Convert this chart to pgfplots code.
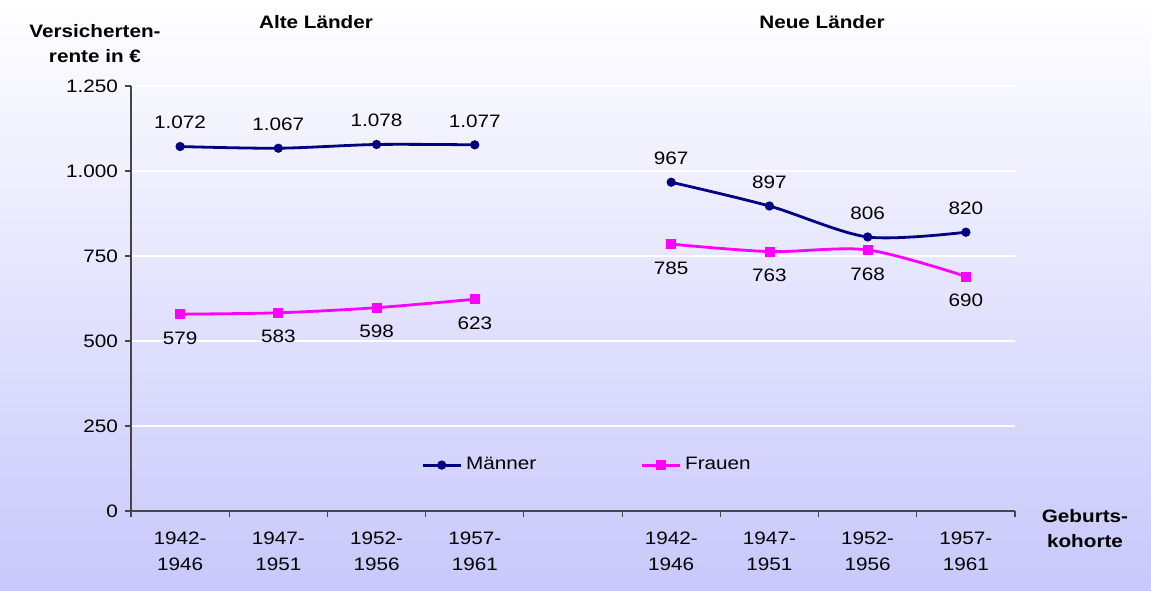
\documentclass[border=0pt]{standalone}
\usepackage{fontspec}
\setmainfont[FakeStretch=1.15]{Liberation Sans}
\usepackage{pgfplots}
\pgfplotsset{compat=1.18}
\definecolor{navy}{RGB}{0,0,128}
\definecolor{mag}{RGB}{255,0,255}
\definecolor{bgbot}{RGB}{200,200,252}
\definecolor{axgray}{RGB}{70,70,70}
\newcommand{\ff}{\fontsize{9}{11}\selectfont}
\begin{document}
\begin{tikzpicture}[x=0.5pt,y=-0.5pt]
\shade[top color=white, bottom color=bgbot] (0,0) rectangle (1151,590);
\begin{axis}[
  at={(65.5pt,-255.5pt)}, anchor=south west,
  scale only axis, width=442pt, height=212.5pt,
  xmin=-0.5, xmax=8.5, ymin=0, ymax=1250,
  axis x line*=bottom, axis y line*=left,
  axis line style={-, draw=axgray, line width=0.6pt},
  ytick={0,250,500,750,1000,1250},
  yticklabels={0,250,500,750,1.000,1.250},
  xtick={0,1,2,3,5,6,7,8},
  xticklabels={1942-\\1946,1947-\\1951,1952-\\1956,1957-\\1961,1942-\\1946,1947-\\1951,1952-\\1956,1957-\\1961},
  minor xtick={-0.5,0.5,1.5,2.5,3.5,4.5,5.5,6.5,7.5,8.5},
  major x tick style={draw=none},
  tick align=outside,
  major tick length=3pt, minor tick length=3pt,
  tick style={axgray, line width=0.6pt},
  ymajorgrids, major grid style={white, line width=0.7pt},
  x tick label style={align=center, font=\fontsize{9}{13}\selectfont, yshift=-4pt},
  y tick label style={font=\ff},
  /pgf/number format/assume math mode=true,
  legend image code/.code={\draw[mark repeat=2,mark phase=2,#1] plot coordinates {(0pt,0pt) (9.5pt,0pt) (19pt,0pt)};},
  legend style={at={(0.517,0.108)}, anchor=center, draw=none, fill=none,
    legend columns=2, font=\ff, /tikz/every even column/.append style={column sep=50pt}},
  point meta=explicit symbolic,
]
\addplot[navy, line width=1.4pt, smooth, tension=0.5, mark=*, mark size=2.1pt,
  mark options={line width=0.4pt, fill=navy},
  nodes near coords, every node near coord/.append style={anchor=center, yshift=12pt, text=black, font=\ff}]
  coordinates {(0,1072)[1.072] (1,1067)[1.067] (2,1078)[1.078] (3,1077)[1.077]};
\addlegendentry{Männer}
\addplot[mag, line width=1.4pt, smooth, tension=0.5, mark=square*, mark size=2.25pt,
  mark options={line width=0.4pt, fill=mag},
  nodes near coords, every node near coord/.append style={anchor=center, yshift=-12pt, text=black, font=\ff}]
  coordinates {(0,579)[579] (1,583)[583] (2,598)[598] (3,623)[623]};
\addlegendentry{Frauen}
\addplot[navy, line width=1.4pt, smooth, tension=0.5, mark=*, mark size=2.1pt,
  mark options={line width=0.4pt, fill=navy}, forget plot,
  nodes near coords, every node near coord/.append style={anchor=center, yshift=12pt, text=black, font=\ff}]
  coordinates {(5,967)[967] (6,897)[897] (7,806)[806] (8,820)[820]};
\addplot[mag, line width=1.4pt, smooth, tension=0.5, mark=square*, mark size=2.25pt,
  mark options={line width=0.4pt, fill=mag}, forget plot,
  nodes near coords, every node near coord/.append style={anchor=center, yshift=-12pt, text=black, font=\ff}]
  coordinates {(5,785)[785] (6,763)[763] (7,768)[768] (8,690)[690]};
\end{axis}
\node[font=\bfseries\ff] at (316,22) {Alte Länder};
\node[font=\bfseries\ff] at (822,22) {Neue Länder};
\node[font=\bfseries\fontsize{9}{12.5}\selectfont, align=center] at (95,44) {Versicherten-\\rente in €};
\node[font=\bfseries\fontsize{9}{12.5}\selectfont, align=center] at (1085,528.5) {Geburts-\\kohorte};
\pgfresetboundingbox
\path[use as bounding box] (0,0) rectangle (1151,590);
\end{tikzpicture}
\end{document}
